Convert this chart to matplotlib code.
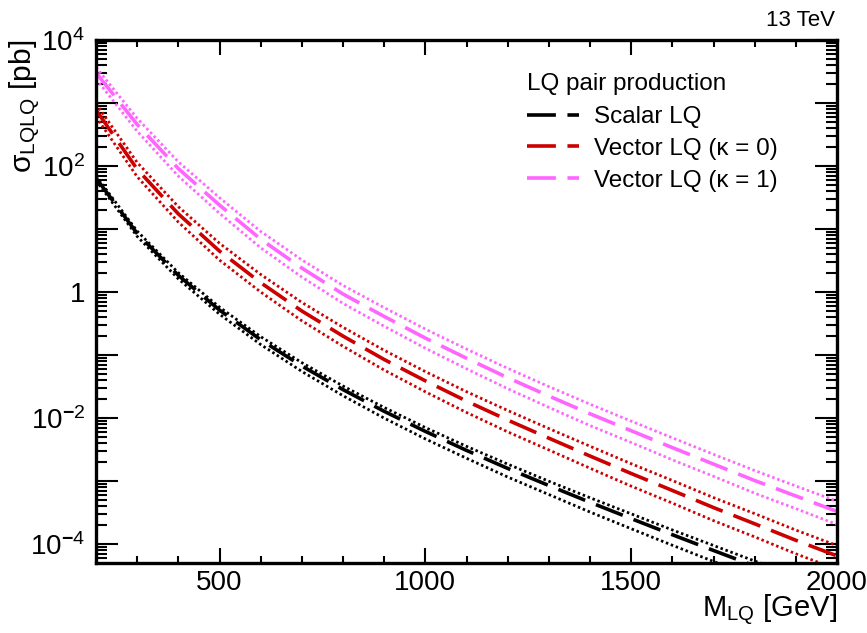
import matplotlib
matplotlib.use("Agg")
import matplotlib.pyplot as plt
from matplotlib.ticker import FixedLocator, FuncFormatter, NullFormatter
import numpy as np

plt.rcParams['font.family'] = ['Liberation Sans', 'DejaVu Sans']
plt.rcParams['mathtext.fontset'] = 'custom'
plt.rcParams['mathtext.rm'] = 'Liberation Sans'
plt.rcParams['mathtext.it'] = 'Liberation Sans:italic'
plt.rcParams['mathtext.bf'] = 'Liberation Sans:bold'
plt.rcParams['mathtext.default'] = 'rm'

# LQ mass points [GeV]
mass = [200, 300, 400, 500, 600, 700, 800, 900, 1000, 1100,
        1200, 1300, 1400, 1500, 1600, 1700, 1800, 1900, 2000]

# pair-production cross sections [pb]
xsec_scalar = [64.5, 8.5, 1.84, 0.518, 0.175, 0.067, 0.0283, 0.0128, 0.00615,
               0.00307, 0.00159, 0.00085, 0.000461, 0.000254, 0.000141,
               7.92e-5, 4.49e-5, 2.57e-5, 1.48e-5]
xsec_vec_k0 = [776, 89, 17.4, 4.47, 1.41, 0.50, 0.20, 0.085, 0.039, 0.0186,
               0.0093, 0.0048, 0.0025, 0.00132, 0.00071, 0.00038, 0.00021,
               0.000115, 0.000065]
xsec_vec_k1 = [3020, 457, 91, 24, 6.9, 2.4, 0.93, 0.41, 0.186, 0.089, 0.0437,
               0.0224, 0.0117, 0.0063, 0.0034, 0.00186, 0.00102, 0.00058,
               0.00033]

# relative uncertainties [%] (up / down)
unc_scalar_up = [8, 9, 10, 11, 12, 13, 14, 15, 15, 16, 17, 17, 18, 19, 19, 20, 20, 21, 21]
unc_scalar_dn = [8, 10, 12, 14, 16, 18, 20, 22, 24, 25, 27, 28, 30, 31, 32, 33, 34, 35, 36]
unc_k0_up = [25, 28, 30, 33, 35, 37, 38, 40, 40, 41, 42, 42, 43, 43, 44, 44, 45, 45, 46]
unc_k0_dn = [22, 24, 26, 28, 29, 30, 31, 32, 33, 34, 35, 35, 36, 37, 37, 38, 38, 39, 39]
unc_k1_up = [22, 25, 28, 31, 33, 35, 37, 38, 39, 40, 41, 41, 42, 42, 43, 43, 44, 44, 45]
unc_k1_dn = [20, 22, 24, 26, 27, 28, 29, 30, 31, 32, 33, 34, 35, 35, 36, 36, 37, 37, 38]

labels = ['Scalar LQ', 'Vector LQ (κ = 0)', 'Vector LQ (κ = 1)']
colors = ['#000000', '#cc0000', '#ff66ff']

fig = plt.figure(figsize=(8.67, 6.33), dpi=100)
W, H = 867, 633
ax = fig.add_axes([96 / W, 1 - 563 / H, (837 - 96) / W, (563 - 40) / H])

m = np.array(mass)
series = [
    (xsec_scalar, unc_scalar_up, unc_scalar_dn),
    (xsec_vec_k0, unc_k0_up, unc_k0_dn),
    (xsec_vec_k1, unc_k1_up, unc_k1_dn),
]
handles = []
for (xs, up, dn), col, lab in zip(series, colors, labels):
    xs = np.array(xs)
    ax.plot(m, xs * (1 + np.array(up) / 100.0), color=col, lw=2.0,
            linestyle=(0, (0.9, 1.0)), dash_capstyle='butt')
    ax.plot(m, xs * (1 - np.array(dn) / 100.0), color=col, lw=2.0,
            linestyle=(0, (0.9, 1.0)), dash_capstyle='butt')
    h, = ax.plot(m, xs, color=col, lw=2.6, linestyle=(0, (8, 3.2)),
                 dash_capstyle='butt', label=lab)
    handles.append(h)

ax.set_xlim(200, 2000)
ax.set_yscale('log')
ax.set_ylim(10 ** -4.30, 1e4)

# ticks on all four sides, pointing inwards
ax.xaxis.set_major_locator(FixedLocator([500, 1000, 1500, 2000]))
ax.xaxis.set_minor_locator(FixedLocator(np.arange(200, 2001, 100)))
ax.yaxis.set_major_locator(FixedLocator([10.0 ** k for k in range(-4, 5)]))
ax.yaxis.set_minor_locator(FixedLocator([j * 10.0 ** k for k in range(-5, 4)
                                         for j in range(2, 10)]))


def ylab(v, pos):
    e = int(round(np.log10(v)))
    if e % 2:
        return ''
    if e == 0:
        return '1'
    return r'$10^{%d}$' % e if e > 0 else r'$10^{\mathbf{-}%d}$' % (-e)


ax.yaxis.set_major_formatter(FuncFormatter(ylab))
ax.yaxis.set_minor_formatter(NullFormatter())

ax.tick_params(which='both', direction='in', top=True, right=True,
               labelsize=20, width=1.5, colors='black')
ax.tick_params(axis='x', which='major', length=10.5, pad=5)
ax.tick_params(axis='x', which='minor', length=5.2)
ax.tick_params(axis='y', which='major', length=16, pad=8)
ax.tick_params(axis='y', which='minor', length=8)
for sp in ax.spines.values():
    sp.set_linewidth(2.4)

# axis titles placed at the ends of the axes
fig.text(837 / W, 1 - 617 / H, r'M$_{\mathrm{LQ}}$ [GeV]', fontsize=21,
         ha='right', va='baseline')
fig.text(8 / W, 1 - 40 / H, r'σ$_{\mathrm{LQLQ}}$ [pb]', fontsize=21.5,
         ha='left', va='top', rotation=90)

fig.text(835 / W, 1 - 20 / H, '13 TeV', fontsize=16, ha='right', va='center')

leg = ax.legend(handles=handles, loc='upper left',
                bbox_to_anchor=(527 / W, 1 - 73 / H),
                bbox_transform=fig.transFigure, frameon=False,
                title='LQ pair production', title_fontsize=17.5,
                fontsize=17.5, alignment='left', borderpad=0,
                borderaxespad=0, handlelength=2.14, handletextpad=0.62,
                labelspacing=0.40)
leg._legend_box.sep = 8

fig.savefig('out.png', dpi=100)
